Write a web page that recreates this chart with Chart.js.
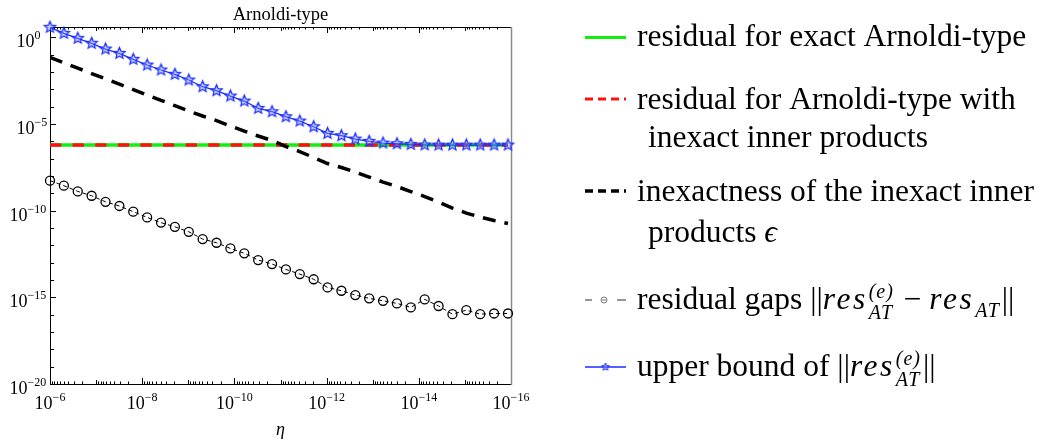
<!DOCTYPE html>
<html>
<head>
<meta charset="utf-8">
<script src="https://cdn.jsdelivr.net/npm/chart.js@4.4.0/dist/chart.umd.min.js"></script>
<style>
  html, body { margin: 0; padding: 0; background: #fff; }
</style>
</head>
<body>
<canvas id="chart" width="1042" height="440"></canvas>
<script>
// eta halves at every step
var eta = [1e-6, 5e-7, 2.5e-7, 1.25e-7, 6.25e-8, 3.125e-8, 1.5625e-8, 7.8125e-9, 3.906e-9, 1.953e-9,
  9.766e-10, 4.883e-10, 2.441e-10, 1.221e-10, 6.104e-11, 3.052e-11, 1.526e-11, 7.629e-12, 3.815e-12, 1.907e-12,
  9.537e-13, 4.768e-13, 2.384e-13, 1.192e-13, 5.960e-14, 2.980e-14, 1.490e-14, 7.451e-15, 3.725e-15, 1.863e-15,
  9.313e-16, 4.657e-16, 2.328e-16, 1.164e-16];

var exactRes = [6.1e-7, 6.1e-7, 6.1e-7, 6.1e-7, 6.1e-7, 6.1e-7, 6.1e-7, 6.1e-7, 6.1e-7, 6.1e-7,
  6.1e-7, 6.1e-7, 6.1e-7, 6.1e-7, 6.1e-7, 6.1e-7, 6.1e-7, 6.1e-7, 6.1e-7, 6.1e-7,
  6.1e-7, 6.1e-7, 6.1e-7, 6.1e-7, 6.1e-7, 6.1e-7, 6.1e-7, 6.1e-7, 6.1e-7, 6.1e-7,
  6.1e-7, 6.1e-7, 6.1e-7, 6.1e-7];

var inexactRes = [6.1e-7, 6.1e-7, 6.1e-7, 6.1e-7, 6.1e-7, 6.1e-7, 6.1e-7, 6.1e-7, 6.1e-7, 6.1e-7,
  6.1e-7, 6.1e-7, 6.1e-7, 6.1e-7, 6.1e-7, 6.1e-7, 6.1e-7, 6.1e-7, 6.1e-7, 6.1e-7,
  6.1e-7, 6.1e-7, 6.1e-7, 6.1e-7, 6.1e-7, 6.1e-7, 6.1e-7, 6.1e-7, 6.1e-7, 6.1e-7,
  6.1e-7, 6.1e-7, 6.1e-7, 6.1e-7];

var epsInner = [7.01e-2, 3.42e-2, 1.67e-2, 8.15e-3, 4.03e-3, 1.97e-3, 9.6e-4, 4.68e-4, 2.32e-4, 1.13e-4,
  5.58e-5, 2.88e-5, 1.58e-5, 7.62e-6, 3.92e-6, 2.02e-6, 1.11e-6, 5.0e-7, 2.57e-7, 1.16e-7,
  5.22e-8, 3.07e-8, 1.69e-8, 8.69e-9, 4.47e-9, 2.46e-9, 1.26e-9, 6.52e-10, 3.13e-10, 1.41e-10,
  7.26e-11, 4.28e-11, 2.69e-11, 1.80e-11];

var residualGaps = [5.37e-9, 2.75e-9, 1.29e-9, 7.24e-10, 3.24e-10, 1.86e-10, 8.71e-11, 4.07e-11, 2.04e-11, 1.17e-11,
  6.03e-12, 2.29e-12, 1.41e-12, 6.61e-13, 3.47e-13, 1.41e-13, 8.32e-14, 4.07e-14, 2.19e-14, 1.10e-14,
  3.72e-15, 2.40e-15, 1.35e-15, 8.71e-16, 6.31e-16, 4.47e-16, 2.63e-16, 7.59e-16, 3.16e-16, 1.07e-16,
  1.82e-16, 1.07e-16, 1.17e-16, 1.17e-16];

var upperBound = [3.78, 1.70, 0.875, 0.451, 0.211, 0.119, 0.0538, 0.0252, 0.0130, 7.33e-3,
  3.44e-3, 1.41e-3, 8.3e-4, 4.10e-4, 2.11e-4, 8.0e-5, 5.09e-5, 2.62e-5, 1.48e-5, 6.93e-6,
  2.88e-6, 2.10e-6, 1.35e-6, 9.98e-7, 7.96e-7, 7.24e-7, 6.70e-7, 6.2e-7, 6.1e-7, 6.1e-7,
  6.1e-7, 6.1e-7, 6.1e-7, 6.1e-7];

// exponents that get a "10^n" label
var xLabelExps = [-6, -8, -10, -12, -14, -16];
var yLabelExps = [0, -5, -10, -15, -20];

var SERIF = '"Liberation Serif", "DejaVu Serif", serif';
var LEG = 31.5;   // legend font size
var LEG_SM = 20;  // legend sub/superscript size

function toXY(vals) {
  return eta.map(function (e, i) { return { x: e, y: vals[i] }; });
}

function makeStar(r, lw) {
  var c = document.createElement('canvas');
  var s = Math.ceil(2 * r + 2 * lw + 2);
  c.width = s; c.height = s;
  var g = c.getContext('2d');
  g.beginPath();
  for (var i = 0; i < 10; i++) {
    var rad = i % 2 ? r * 0.45 : r;
    var a = -Math.PI / 2 + i * Math.PI / 5;
    g.lineTo(s / 2 + rad * Math.cos(a), s / 2 + rad * Math.sin(a));
  }
  g.closePath();
  g.fillStyle = 'rgba(130,150,255,0.4)';
  g.fill();
  g.lineWidth = lw;
  g.strokeStyle = '#1a2cff';
  g.stroke();
  return c;
}
var starImg = makeStar(6, 1.2);
var starSmall = makeStar(4, 1);

function font(sz, it) {
  return (it ? 'italic ' : '') + sz + 'px ' + SERIF;
}

// 10^n label
function powLabel(ctx, exp, x, y, align) {
  ctx.font = font(18);
  var wb = ctx.measureText('10').width;
  ctx.font = font(12);
  var sup = String(exp).replace('-', '\u2212');
  var ws = ctx.measureText(sup).width;
  var x0 = x;
  if (align === 'center') x0 = x - (wb + ws) / 2;
  ctx.font = font(18);
  ctx.fillText('10', x0, y);
  ctx.font = font(12);
  ctx.fillText(sup, x0 + wb, y - 8);
}

function drawRich(ctx, x, y, parts) {
  parts.forEach(function (p) {
    if (p.sup !== undefined || p.sub !== undefined) {
      ctx.font = font(LEG_SM, true);
      ctx.letterSpacing = '1px';
      var w = 0;
      if (p.sup) { ctx.fillText(p.sup, x + 1, y - 11); w = ctx.measureText(p.sup).width; }
      if (p.sub) { ctx.fillText(p.sub, x + 1, y + (p.sup ? 10 : 8)); w = Math.max(w, ctx.measureText(p.sub).width); }
      ctx.letterSpacing = '0px';
      x += w + 3;
    } else {
      ctx.font = font(LEG, p.it);
      ctx.letterSpacing = p.it ? '2.5px' : '0px';
      ctx.fillText(p.t, x, y);
      x += ctx.measureText(p.t).width;
      ctx.letterSpacing = '0px';
    }
  });
}

var frame = {
  id: 'frame',
  beforeDatasetsDraw: function (chart) {
    var ctx = chart.ctx, a = chart.chartArea;
    var xs = chart.scales.x, ys = chart.scales.y;
    ctx.save();
    ctx.strokeStyle = '#000';
    ctx.lineWidth = 1;
    // x ticks on bottom and top, pointing inward
    for (var e = -16; e <= -6; e++) {
      for (var m = 1; m <= 9; m++) {
        var v = m * Math.pow(10, e);
        if (v < xs.min || v > xs.max) continue;
        var px = Math.round(xs.getPixelForValue(v)) + 0.5;
        var len = m === 1 ? (xLabelExps.indexOf(e) >= 0 ? 6 : 4) : 2.5;
        ctx.beginPath();
        ctx.moveTo(px, a.bottom); ctx.lineTo(px, a.bottom - len);
        ctx.moveTo(px, a.top); ctx.lineTo(px, a.top + len);
        ctx.stroke();
      }
    }
    // y ticks every decade
    for (var k = -20; k <= 0; k++) {
      var py = Math.round(ys.getPixelForValue(Math.pow(10, k))) + 0.5;
      var ln = yLabelExps.indexOf(k) >= 0 ? 6 : 4;
      ctx.beginPath();
      ctx.moveTo(a.left, py); ctx.lineTo(a.left + ln, py);
      ctx.stroke();
    }
    ctx.beginPath();
    ctx.moveTo(a.left + 0.5, a.top + 0.5);
    ctx.lineTo(a.right, a.top + 0.5);
    ctx.moveTo(a.left + 0.5, a.top);
    ctx.lineTo(a.left + 0.5, a.bottom + 0.5);
    ctx.lineTo(a.right, a.bottom + 0.5);
    ctx.stroke();
    ctx.strokeStyle = '#8a8a8a';
    ctx.lineWidth = 1.5;
    ctx.beginPath();
    ctx.moveTo(a.right + 0.5, a.top);
    ctx.lineTo(a.right + 0.5, a.bottom + 1);
    ctx.stroke();
    ctx.restore();
  },
  afterDraw: function (chart) {
    var ctx = chart.ctx, a = chart.chartArea;
    var xs = chart.scales.x, ys = chart.scales.y;
    ctx.save();
    ctx.fillStyle = '#000';
    ctx.textBaseline = 'alphabetic';
    xLabelExps.forEach(function (e) {
      powLabel(ctx, e, xs.getPixelForValue(Math.pow(10, e)), 409, 'center');
    });
    yLabelExps.forEach(function (e) {
      var py = ys.getPixelForValue(Math.pow(10, e));
      powLabel(ctx, e, e <= -10 ? 9.5 : 16.5, py + 10, 'left');
    });
    // title and axis label
    ctx.font = font(18.5);
    ctx.textAlign = 'center';
    ctx.fillText('Arnoldi-type', (a.left + a.right) / 2, 20);
    ctx.font = font(18, true);
    ctx.fillText('\u03b7', (a.left + a.right) / 2, 435);
    ctx.textAlign = 'left';

    // legend
    var ds = chart.data.datasets;
    var lx0 = 585, lx1 = 626, tx = 637, tx2 = 648;
    function seg(d, y, dash, lw) {
      ctx.save();
      ctx.strokeStyle = d.borderColor;
      ctx.lineWidth = lw;
      ctx.setLineDash(dash);
      ctx.beginPath();
      ctx.moveTo(lx0, y); ctx.lineTo(lx1, y);
      ctx.stroke();
      ctx.restore();
    }
    seg(ds[4], 37.5, [], 3);
    seg(ds[3], 99, [8, 5], 3);
    seg(ds[2], 191, [8, 5], 3.5);
    // gaps sample
    ctx.save();
    ctx.strokeStyle = '#777';
    ctx.lineWidth = 1.5;
    ctx.beginPath();
    ctx.moveTo(lx0, 300); ctx.lineTo(lx0 + 7, 300);
    ctx.moveTo(lx1 - 9, 300); ctx.lineTo(lx1, 300);
    ctx.stroke();
    ctx.lineWidth = 1;
    ctx.beginPath();
    ctx.arc(604, 300, 3, 0, Math.PI * 2);
    ctx.moveTo(602, 300); ctx.lineTo(606, 300);
    ctx.stroke();
    ctx.restore();
    // bound sample
    seg(ds[0], 367, [], 1.5);
    ctx.drawImage(starSmall, (lx0 + lx1) / 2 - starSmall.width / 2, 367 - starSmall.height / 2);

    ctx.fillStyle = '#000';
    drawRich(ctx, tx, 46, [{ t: 'residual for exact Arnoldi-type' }]);
    drawRich(ctx, tx, 109, [{ t: 'residual for Arnoldi-type with' }]);
    drawRich(ctx, tx2, 147, [{ t: 'inexact inner products' }]);
    drawRich(ctx, tx, 201, [{ t: 'inexactness of the inexact inner' }]);
    drawRich(ctx, tx2, 242, [{ t: 'products ' }, { t: '\u03f5', it: true }]);
    drawRich(ctx, tx, 309, [{ t: 'residual gaps ||' }, { t: 'res', it: true }, { sup: '(e)', sub: 'AT' },
      { t: ' \u2212 ' }, { t: 'res', it: true }, { sub: 'AT' }, { t: '||' }]);
    drawRich(ctx, tx, 376, [{ t: 'upper bound of ||' }, { t: 'res', it: true }, { sup: '(e)', sub: 'AT' }, { t: '||' }]);
    ctx.restore();
  }
};

const chartArnoldi = new Chart(document.getElementById('chart'), {
  type: 'line',
  data: {
    datasets: [{
      label: 'upper bound of ||res_AT^(e)||',
      data: toXY(upperBound),
      borderColor: '#1a2cff',
      borderWidth: 1.3,
      pointStyle: starImg,
      pointRadius: 6,
      order: 0,
      clip: false
    },
    {
      label: 'residual gaps',
      data: toXY(residualGaps),
      borderColor: '#000',
      borderWidth: 1,
      borderDash: [4, 3],
      pointStyle: 'circle',
      pointRadius: 4.5,
      pointBorderWidth: 1.3,
      pointBorderColor: '#000',
      pointBackgroundColor: 'rgba(0,0,0,0)',
      order: 1,
      clip: false
    },
    {
      label: 'inexactness of the inexact inner products',
      data: toXY(epsInner),
      borderColor: '#000',
      borderWidth: 3.5,
      borderDash: [13, 9],
      pointRadius: 0,
      order: 2
    },
    {
      label: 'residual for Arnoldi-type with inexact inner products',
      data: toXY(inexactRes),
      borderColor: '#ff1010',
      borderWidth: 3.5,
      borderDash: [11.3, 11.3],
      pointRadius: 0,
      order: 3
    },
    {
      label: 'residual for exact Arnoldi-type',
      data: toXY(exactRes),
      borderColor: '#10f010',
      borderWidth: 3.5,
      pointRadius: 0,
      order: 4
    }]
  },
  options: {
    responsive: false,
    animation: false,
    devicePixelRatio: 1,
    layout: { padding: { left: 50, right: 531, top: 27, bottom: 56 } },
    plugins: {
      legend: { display: false },
      title: { display: false },
      tooltip: { enabled: false }
    },
    scales: {
      x: { type: 'logarithmic', reverse: true, min: 1e-16, max: 1e-6, display: false },
      y: { type: 'logarithmic', min: 1e-20, max: 3.93, display: false }
    }
  },
  plugins: [frame]
});
</script>
</body>
</html>
